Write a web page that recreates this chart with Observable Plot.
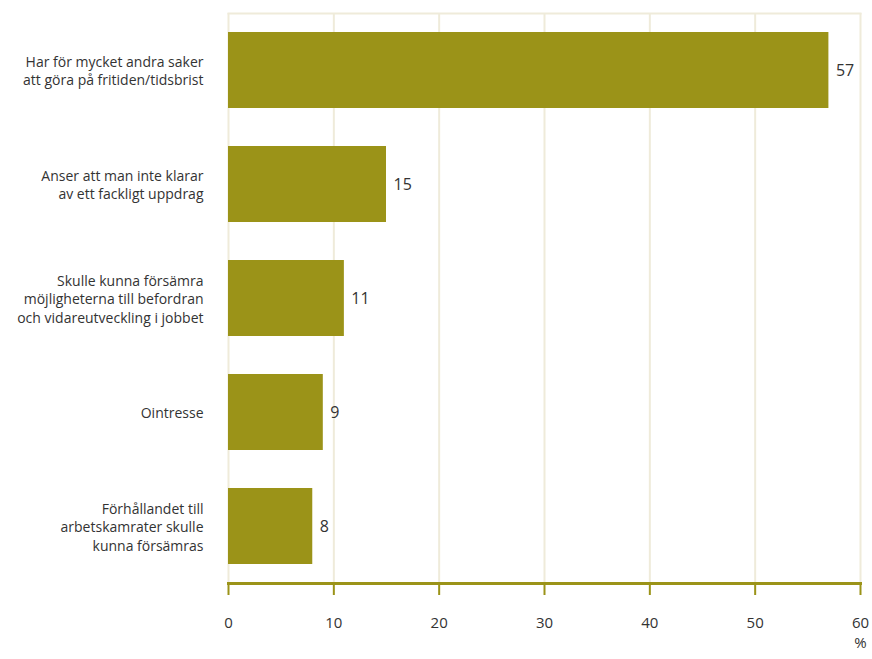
<!DOCTYPE html>
<html>
<head>
<meta charset="utf-8">
<script src="https://cdn.jsdelivr.net/npm/d3@7"></script>
<script src="https://cdn.jsdelivr.net/npm/@observablehq/plot@0.6"></script>
<style>
  body { margin: 0; background: #fff; }
  #chart svg { display: block; }
</style>
</head>
<body>
<div id="chart"></div>
<script>
const categories = [
  "Har för mycket andra saker\natt göra på fritiden/tidsbrist",
  "Anser att man inte klarar\nav ett fackligt uppdrag",
  "Skulle kunna försämra\nmöjligheterna till befordran\noch vidareutveckling i jobbet",
  "Ointresse",
  "Förhållandet till\narbetskamrater skulle\nkunna försämras"
];
const values = [57, 15, 11, 9, 8];
const xTicks = [0, 10, 20, 30, 40, 50, 60];

const data = categories.map((c, i) => ({category: c, value: values[i]}));

const barColor = "#9b9318";
const gridColor = "#efebda";
const textColor = "#333333";

const chart = Plot.plot({
  width: 872,
  height: 659,
  marginLeft: 228,
  marginRight: 12,
  marginTop: 13,
  marginBottom: 76,
  style: { fontFamily: "'Open Sans', sans-serif", color: textColor, background: "#fff" },
  x: { domain: [0, 60], ticks: xTicks },
  y: { domain: categories, paddingInner: 0.3333, paddingOuter: 0.1667, align: 0.5, round: false },
  marks: [
    Plot.gridX(xTicks, { stroke: gridColor, strokeOpacity: 1, strokeWidth: 2 }),
    Plot.frame({ anchor: "top", stroke: gridColor, strokeWidth: 2 }),
    Plot.barX(data, { y: "category", x: "value", fill: barColor }),
    Plot.text(data, { y: "category", x: "value", text: d => String(d.value), dx: 7, textAnchor: "start", fontSize: 16, fill: textColor }),
    Plot.axisY({ tickSize: 0, tickPadding: 25, fontSize: 14, lineHeight: 1.3, fill: textColor, label: null }),
    Plot.axisX(xTicks, { tickSize: 12, tickPadding: 22, stroke: barColor, strokeWidth: 2, fontSize: 15, fill: textColor, tickFormat: d => String(d), label: null }),
    Plot.frame({ anchor: "bottom", stroke: barColor, strokeWidth: 3 }),
    Plot.text(["%"], { frameAnchor: "bottom-right", dy: 64, dx: 0, textAnchor: "middle", fontSize: 15, fill: textColor })
  ]
});
document.getElementById("chart").appendChild(chart);
</script>
</body>
</html>
